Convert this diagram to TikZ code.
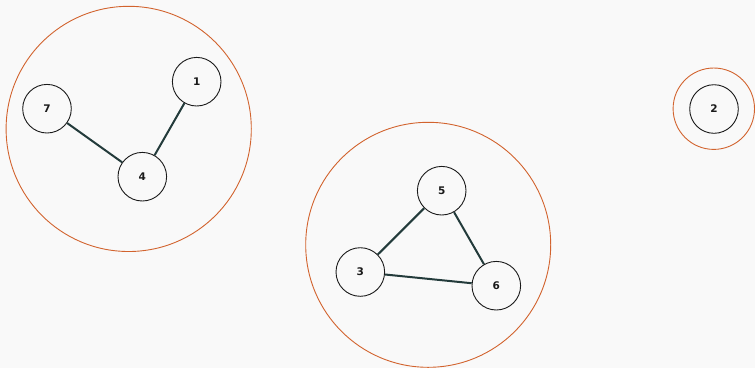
\documentclass[tikz,border=0pt]{standalone}
\usepackage{fontspec}
\setmainfont{DejaVu Sans}
\definecolor{bgcol}{HTML}{F9F9F9}
\definecolor{ringcol}{HTML}{D2632E}
\definecolor{edgecol}{HTML}{233B3B}
\definecolor{nodecol}{HTML}{1A1A1A}
\begin{document}
\begin{tikzpicture}[x=1pt,y=-1pt,
  vert/.style={circle,draw=nodecol,line width=0.9pt,minimum size=48.6pt,inner sep=0pt,
    font=\fontsize{10.5}{12}\selectfont\bfseries,text=nodecol},
  link/.style={draw=edgecol,line width=2pt},
  ring/.style={draw=ringcol,line width=0.9pt}]
\fill[bgcol] (0,0) rectangle (755,368);
\useasboundingbox (0,0) rectangle (755,368);
% groups
\draw[ring] (128.7,128.9) circle (122.6);
\draw[ring] (428.2,244.8) circle (122.5);
\draw[ring] (713.8,108.7) circle (40.7);
% vertices
\node[vert] (n7) at (47,108.7) {7};
\node[vert] (n1) at (196.7,81.7) {1};
\node[vert] (n4) at (142.3,176.7) {4};
\node[vert] (n5) at (441.7,190.7) {5};
\node[vert] (n3) at (360.3,272) {3};
\node[vert] (n6) at (496.3,285.7) {6};
\node[vert] (n2) at (714,109) {2};
% edges
\draw[link] (n7) -- (n4);
\draw[link] (n1) -- (n4);
\draw[link] (n5) -- (n3);
\draw[link] (n5) -- (n6);
\draw[link] (n3) -- (n6);
\end{tikzpicture}
\end{document}
